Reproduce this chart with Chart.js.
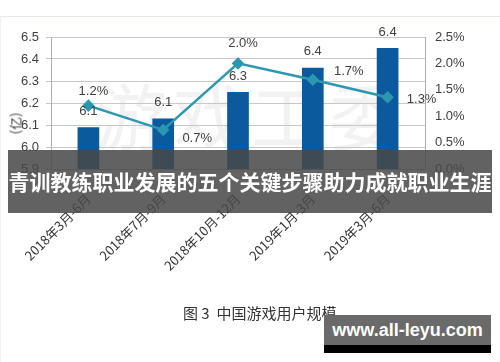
<!DOCTYPE html>
<html>
<head>
<meta charset="utf-8">
<script src="https://cdn.jsdelivr.net/npm/chart.js@4"></script>
<style>
  body { margin: 0; background: #fff; }
  #wrap { position: relative; width: 500px; height: 362px; overflow: hidden; }
  #frame { position: absolute; left: 0; top: 16px; width: 499px; height: 346px; border-top: 1px solid #e4e9f0; border-left: 1px solid #eef0f3; }
  #wm { position: absolute; left: 95px; top: 60px; font: 72px "Noto Sans CJK SC"; color: rgba(0,0,0,0.05); letter-spacing: 6px; }
  canvas { position: absolute; left: 0; top: 0; }
  #unit { position: absolute; left: 4px; top: 114px; font: 13px "Noto Sans CJK SC"; color: #404040; transform: rotate(-90deg); }
  #banner { position: absolute; left: 8px; top: 150px; width: 484px; height: 63px; background: rgba(72,72,72,0.86);
    color: #fff; font: bold 21px "Noto Sans CJK SC"; line-height: 63px; text-align: center; white-space: nowrap; }
  #caption { position: absolute; left: 183px; top: 302px; font: 15px "Noto Sans CJK SC"; color: #333; white-space: nowrap; }
  #site { position: absolute; left: 324px; top: 315px; width: 167px; height: 38px; background: #6a6a6a; border-bottom: 8px solid #000; box-sizing: border-box;
    color: #fff; font: bold 18px "Liberation Sans"; line-height: 30px; text-align: center; }
</style>
</head>
<body>
<div id="wrap">
  <div id="frame"></div>
  <div id="wm">游戏工委</div>
  <canvas id="myChart" width="500" height="362"></canvas>
  <div id="unit">(亿)</div>
  <div id="banner">青训教练职业发展的五个关键步骤助力成就职业生涯</div>
  <div id="caption">图 3 &nbsp;中国游戏用户规模</div>
  <div id="site">www.all-leyu.com</div>
</div>
<script>
let periods = ["2018年3月-6月", "2018年7月-9月", "2018年10月-12月", "2019年1月-3月", "2019年3月-6月"];
let users = [6.09, 6.13, 6.25, 6.36, 6.45];
let userLabels = ["6.1", "6.1", "6.3", "6.4", "6.4"];
let growth = [1.2, 0.74, 2.0, 1.69, 1.36];
let growthLabels = ["1.2%", "0.7%", "2.0%", "1.7%", "1.3%"];

// where each growth label sits relative to its point
let growthOffsets = [[5, -14], [34, 8], [5, -20], [36, -8], [34, 2]];

const labelPlugin = {
  id: "labels",
  afterDatasetsDraw(chart) {
    const c = chart.ctx;
    c.save();
    c.font = "13px 'Liberation Sans'";
    c.fillStyle = "#404040";
    c.textAlign = "center";
    c.textBaseline = "middle";
    chart.getDatasetMeta(1).data.forEach((bar, i) => {
      c.fillText(userLabels[i], bar.x, bar.y - 16);
    });
    chart.getDatasetMeta(0).data.forEach((pt, i) => {
      c.fillText(growthLabels[i], pt.x + growthOffsets[i][0], pt.y + growthOffsets[i][1]);
    });
    c.restore();
  }
};

const ctx = document.getElementById("myChart");
new Chart(ctx, {
  data: {
    labels: periods,
    datasets: [
      {
        type: "line",
        data: growth,
        yAxisID: "y1",
        borderColor: "#2b97b0",
        backgroundColor: "#2b97b0",
        borderWidth: 2.5,
        pointStyle: "rectRot",
        pointRadius: 4.5,
        tension: 0,
      },
      {
        type: "bar",
        data: users,
        yAxisID: "y",
        backgroundColor: "#0b5a9e",
        barPercentage: 0.29,
        categoryPercentage: 1,
      },
    ],
  },
  options: {
    responsive: false,
    animation: false,
    layout: { padding: { top: 37, left: 0, right: 0, bottom: 0 } },
    plugins: { legend: { display: false }, tooltip: { enabled: false } },
    scales: {
      x: {
        grid: { display: false },
        border: { color: "#b0b0b0" },
        ticks: { minRotation: 45, maxRotation: 45, padding: 14, color: "#333", font: { family: "Noto Sans CJK SC", size: 13 } },
        afterFit(scale) { scale.height = 193; },
      },
      y: {
        position: "left",
        min: 5.9,
        max: 6.5,
        ticks: { stepSize: 0.1, color: "#404040", padding: 7, font: { family: "Liberation Sans", size: 13 },
          callback: (v) => v.toFixed(1) },
        grid: { color: "#c8c8c8", tickLength: 5 },
        border: { color: "#b0b0b0" },
        afterFit(scale) { scale.width = 51; },
      },
      y1: {
        position: "right",
        min: 0,
        max: 2.5,
        ticks: { stepSize: 0.5, color: "#404040", padding: 10, font: { family: "Liberation Sans", size: 13 },
          callback: (v) => v.toFixed(1) + "%" },
        grid: { display: false, drawTicks: false },
        border: { color: "#b0b0b0" },
        afterFit(scale) { scale.width = 75; },
      },
    },
  },
  plugins: [labelPlugin],
});
</script>
</body>
</html>
